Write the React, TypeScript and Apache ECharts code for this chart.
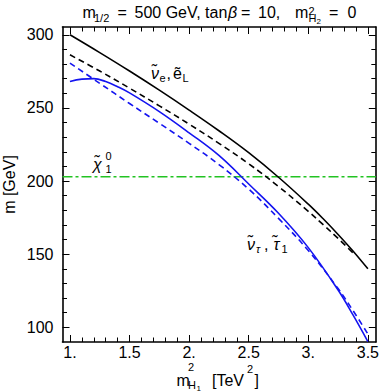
import React, { useEffect, useRef } from "react";
import * as echarts from "echarts";

// ---------- data ----------
const xMajor = [1, 1.5, 2, 2.5, 3, 3.5];
const xMajorLabels = ["1.", "1.5", "2.", "2.5", "3.", "3.5"];
const yMajor = [100, 150, 200, 250, 300];
const yMajorLabels = ["100", "150", "200", "250", "300"];

// selectron / sneutrino (1st gen), solid black
const sel1X = [1, 1.25, 1.5, 1.75, 2, 2.25, 2.5, 2.75, 3, 3.125, 3.25, 3.375, 3.5];
const sel1Y = [300, 287.8, 275.2, 262.1, 248.5, 234.4, 219.4, 202.6, 184.2, 174.2, 163.5, 152.2, 140];
// sneutrino (1st gen), dashed black
const snu1X = [1, 1.25, 1.5, 1.75, 2, 2.25, 2.5, 2.75, 3, 3.125, 3.25, 3.375];
const snu1Y = [286.3, 275.2, 263.5, 251.4, 238.9, 225.8, 211.8, 196.3, 179.3, 170.2, 160.8, 150.9];
// stau_1, solid blue
const stauX = [1, 1.1, 1.2, 1.3, 1.4, 1.5, 1.75, 2, 2.25, 2.5, 2.75, 3, 3.25, 3.375, 3.5];
const stauY = [268, 269.7, 270, 268, 264.5, 260.3, 247.5, 233, 217.5, 198, 178, 154.5, 125.5, 108.5, 90.3];
// sneutrino tau, dashed blue
const snutX = [1, 1.25, 1.5, 1.75, 2, 2.25, 2.5, 2.75, 3, 3.25, 3.375, 3.5];
const snutY = [280.6, 266.8, 253, 239.5, 225.8, 211.3, 194.5, 174.5, 152.5, 126.5, 111.5, 95.5];
// neutralino
const chiMass = 203;

const X_MIN = 0.9375;
const X_MAX = 3.5667;
const Y_MIN = 90;
const Y_MAX = 305.3;

const FONT = "Liberation Sans, Arial, sans-serif";

function minorTicks(start: number, end: number, step: number, skipEvery: number): number[] {
  const out: number[] = [];
  const n = Math.round((end - start) / step);
  for (let i = 0; i <= n; i++) {
    if (i % skipEvery === 0) continue;
    out.push(Math.round((start + i * step) * 1000) / 1000);
  }
  return out;
}
const xMinor = minorTicks(1, 3.5, 0.1, 5);
const yMinor = minorTicks(100, 300, 10, 5);

function zip(xs: number[], ys: number[]) {
  return xs.map((x, i) => [x, ys[i]]);
}

function T(text: string, x: number, y: number, size: number, extra: any = {}) {
  return {
    type: "text",
    x,
    y,
    rotation: extra.rotation || 0,
    style: {
      text,
      fontSize: size,
      fontFamily: FONT,
      fontStyle: extra.italic ? "italic" : "normal",
      fill: "#000",
      align: extra.align || "left",
      textAlign: extra.align || "left",
      verticalAlign: "middle",
      textVerticalAlign: "middle",
    },
    silent: true,
  };
}

const MAJ = 7;
const MIN = 4.5;
const LW = 1.6;

function xAxisDef(pos: "top" | "bottom", major: boolean, labels: boolean) {
  return {
    type: "value",
    position: pos,
    min: X_MIN,
    max: X_MAX,
    axisLine: { show: major, onZero: false, lineStyle: { color: "#000", width: LW } },
    axisTick: {
      show: true,
      inside: true,
      length: major ? MAJ : MIN,
      customValues: major ? xMajor : xMinor,
      lineStyle: { color: "#000", width: 1 },
    },
    axisLabel: {
      show: labels,
      customValues: xMajor,
      margin: 2,
      fontSize: 16,
      fontFamily: FONT,
      color: "#000",
      formatter: (v: number) => {
        const i = xMajor.findIndex((m) => Math.abs(m - v) < 1e-6);
        return i >= 0 ? xMajorLabels[i] : "";
      },
    },
    splitLine: { show: false },
  };
}

function yAxisDef(pos: "left" | "right", major: boolean, labels: boolean) {
  return {
    type: "value",
    position: pos,
    min: Y_MIN,
    max: Y_MAX,
    axisLine: { show: major, onZero: false, lineStyle: { color: "#000", width: LW } },
    axisTick: {
      show: true,
      inside: true,
      length: major ? MAJ : MIN,
      customValues: major ? yMajor : yMinor,
      lineStyle: { color: "#000", width: 1 },
    },
    axisLabel: {
      show: labels,
      customValues: yMajor,
      margin: 9,
      fontSize: 16,
      fontFamily: FONT,
      color: "#000",
      formatter: (v: number) => {
        const i = yMajor.findIndex((m) => Math.abs(m - v) < 1e-6);
        return i >= 0 ? yMajorLabels[i] : "";
      },
    },
    splitLine: { show: false },
  };
}

export default function App() {
  const ref = useRef<HTMLDivElement>(null);

  useEffect(() => {
    if (!ref.current) return;
    const chart = echarts.init(ref.current, null, { renderer: "svg" });
    const lineBase = { type: "line", xAxisIndex: 0, yAxisIndex: 0, symbol: "none", showSymbol: false, smooth: 0.4, silent: true };
    const option: any = {
      animation: false,
      backgroundColor: "#fff",
      grid: { left: 62.5, top: 27, width: 315.5, height: 315, containLabel: false },
      xAxis: [
        xAxisDef("bottom", true, true),
        xAxisDef("bottom", false, false),
        xAxisDef("top", true, false),
        xAxisDef("top", false, false),
      ],
      yAxis: [
        yAxisDef("left", true, true),
        yAxisDef("left", false, false),
        yAxisDef("right", true, false),
        yAxisDef("right", false, false),
      ],
      series: [
        {
          ...lineBase,
          name: "chi",
          smooth: false,
          data: [[X_MIN, chiMass], [X_MAX, chiMass]],
          lineStyle: { color: "#22c322", width: 1.5, type: [10, 3, 3, 3] },
        },
        { ...lineBase, name: "snu1", data: zip(snu1X, snu1Y), lineStyle: { color: "#000", width: 1.6, type: [6, 4] } },
        { ...lineBase, name: "sel1", data: zip(sel1X, sel1Y), lineStyle: { color: "#000", width: 1.6, type: "solid" } },
        { ...lineBase, name: "snut", data: zip(snutX, snutY), lineStyle: { color: "#1414f0", width: 1.6, type: [6, 4] } },
        { ...lineBase, name: "stau", data: zip(stauX, stauY), lineStyle: { color: "#1414f0", width: 1.6, type: "solid" } },
      ],
      graphic: [
        // title
        T("m", 82.5, 12.4, 16),
        T("1/2", 94, 18.2, 11),
        T("=", 117.5, 12.4, 16),
        T("500 GeV, tan", 134.5, 12.4, 16),
        T("β", 228, 12.4, 16, { italic: true }),
        T("=", 241, 12.4, 16),
        T("10,", 258, 12.4, 16),
        T("m", 295, 12.4, 16),
        T("2", 308.5, 10.6, 11),
        T("H", 308.5, 18.2, 11),
        T("2", 316.5, 21, 8),
        T("=", 329, 12.4, 16),
        T("0", 347.5, 12.4, 16),
        // curve labels
        T("ν\u0303", 151, 73.4, 16, { italic: true }),
        T("e", 159.5, 78.2, 11),
        T(",", 166.5, 73.4, 16),
        T("ẽ", 173, 73.4, 16),
        T("L", 182.5, 78.2, 11),

        T("ν\u0303", 247, 244.4, 16, { italic: true }),
        T("τ", 256, 249.2, 11, { italic: true }),
        T(",", 264, 244.4, 16),
        T("τ\u0303", 273.5, 244.4, 16, { italic: true }),
        T("1", 281.5, 249.2, 11),

        T("χ\u0303", 93, 164.4, 16, { italic: true }),
        T("0", 105.5, 156.2, 11),
        T("1", 105.5, 169.2, 11),
        // y axis title
        T("m [GeV]", 9.5, 184.5, 16, { rotation: Math.PI / 2, align: "center" }),
        // x axis title
        T("m", 176.5, 380.4, 16),
        T("2", 188, 367.2, 11),
        T("H", 188, 384.7, 11),
        T("1", 196.5, 388.2, 8),
        T("[TeV", 212, 380.4, 16),
        T("2", 247, 369.2, 11),
        T("]", 254.5, 380.4, 16),
      ],
    };
    chart.setOption(option);
    return () => chart.dispose();
  }, []);

  return (
    <div
      ref={ref}
      style={{ position: "fixed", left: 0, top: 0, width: 382, height: 392, background: "#fff" }}
    />
  );
}
